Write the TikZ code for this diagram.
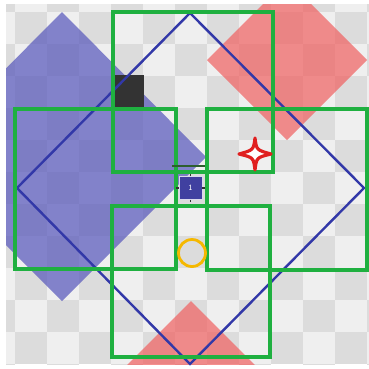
\documentclass[tikz,border=0pt]{standalone}
\usetikzlibrary{calc}
\definecolor{chkL}{HTML}{EFEFEF}
\definecolor{chkD}{HTML}{DCDCDC}
\definecolor{bluefill}{HTML}{5555BB}
\definecolor{redfill}{HTML}{F06060}
\definecolor{blueline}{HTML}{3238A8}
\definecolor{sqblue}{HTML}{4040A0}
\definecolor{grn}{HTML}{1FB040}
\definecolor{dgrn}{HTML}{2E5E2E}
\definecolor{starred}{HTML}{E02020}
\definecolor{ylw}{HTML}{F5B800}
\tikzset{
  bluediam/.style={fill=bluefill, fill opacity=0.7},
  reddiam/.style={fill=redfill, fill opacity=0.7},
  outlinediam/.style={draw=blueline, line width=2.4pt},
  greenbox/.style={draw=grn, line width=3.4pt},
  handle/.style={draw=black!80, line width=1.2pt},
}
\begin{document}
\begin{tikzpicture}[x=1pt,y=-1pt]
\useasboundingbox (0,0) rectangle (369,368);
\fill[white] (0,0) rectangle (369,368);
\begin{scope}
\clip (6,4) rectangle (369,364);
\fill[chkL] (6,4) rectangle (369,364);
\foreach \i in {-1,...,11}{
  \foreach \j in {-1,...,11}{
    \pgfmathtruncatemacro\s{mod(\i+\j+100,2)}
    \ifnum\s=0
      \fill[chkD] ({15+32*\i},{12+32*\j}) rectangle ++(32,32);
    \fi
  }
}
% blue translucent diamond
\fill[bluediam] (62,12) -- (206,157) -- (62,301) -- (-82,157) -- cycle;
% red translucent diamonds
\fill[reddiam] (287,-20) -- (367,60) -- (287,140) -- (207,60) -- cycle;
\fill[reddiam] (191,301) -- (271,381) -- (191,461) -- (111,381) -- cycle;
\end{scope}
% black square
\fill[black!80] (111,75) rectangle (144,108);
% blue outline diamond
\draw[outlinediam] (190,13) -- (364,188) -- (190,364) -- (17,188) -- cycle;
% green boxes
\draw[greenbox] (113,12) rectangle (273,172);
\draw[greenbox] (15,109) rectangle (176,269);
\draw[greenbox] (207,109) rectangle (367,270);
\draw[greenbox] (112,206) rectangle (270,357);
% dark green bar
\coordinate (barL) at (172,166);
\coordinate (barR) at (205,166);
\draw[dgrn, line width=2pt] (barL) -- (barR);
% small blue square with label
\node[fill=sqblue, draw=white!80!sqblue, line width=0.8pt, minimum size=23pt, inner sep=0pt, text=white, font=\sffamily\footnotesize] (sq) at (190.5,188) {1};
\draw[handle] (sq.north) -- ++(0,-2.5);
\draw[handle] (sq.south) -- ++(0,2.5);
\draw[handle] (sq.west) -- ++(-2.5,0);
\draw[handle] (sq.east) -- ++(2.5,0);
% red star
\draw[starred, fill=white, line width=3.2pt, line join=round]
  (255,138) .. controls (256.5,150) .. (271,154)
  .. controls (256.5,157.5) .. (255,170)
  .. controls (253.5,157.5) .. (239,154)
  .. controls (253.5,150) .. cycle;
% yellow circle
\draw[ylw, line width=2.8pt] (192,253) circle (13.5);
\end{tikzpicture}
\end{document}
